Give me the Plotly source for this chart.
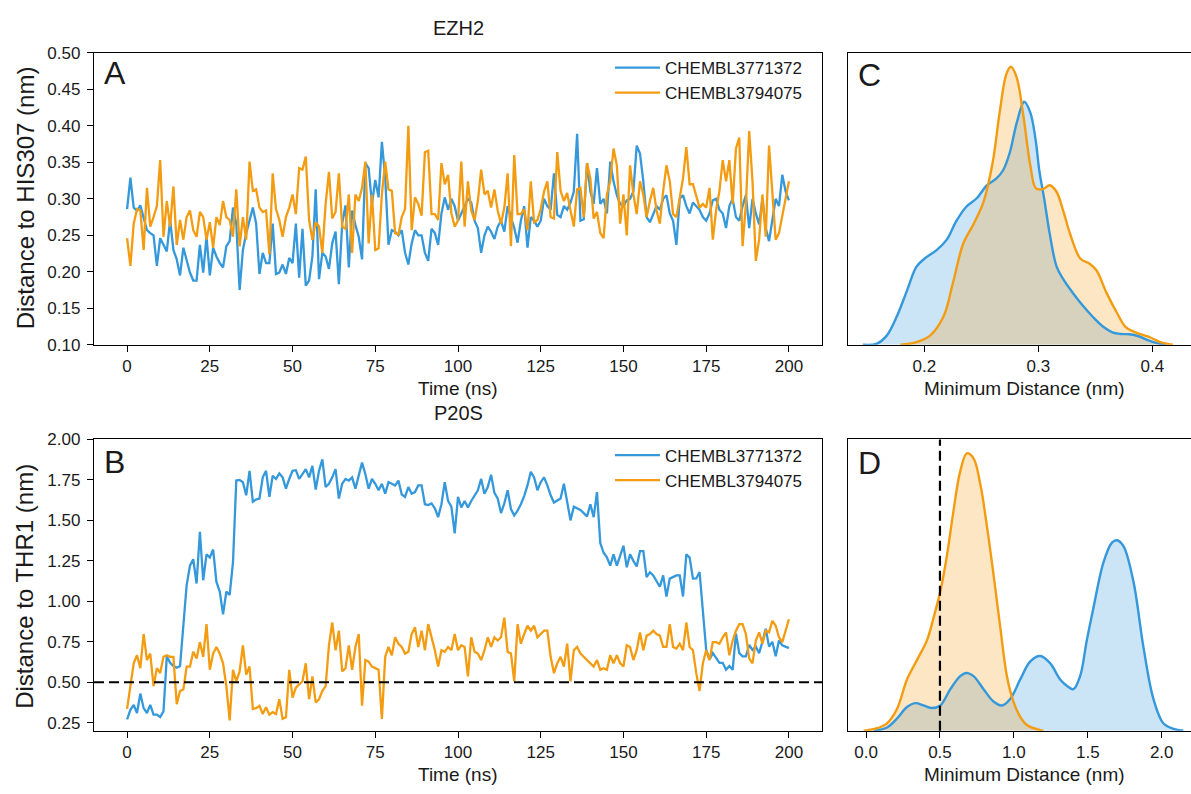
import plotly.graph_objects as go

# ---------------- data ----------------
time_ns = list(range(0, 201))

ezh2_chembl3771372 = [
    0.286,0.329,0.288,0.284,0.291,0.275,0.257,0.253,0.250,0.208,
    0.246,0.237,0.228,0.271,0.230,0.217,0.195,0.233,0.217,0.199,
    0.188,0.188,0.237,0.199,0.248,0.195,0.233,0.221,0.212,0.206,
    0.235,0.242,0.288,0.266,0.175,0.230,0.253,0.271,0.288,0.266,
    0.197,0.226,0.212,0.212,0.266,0.197,0.199,0.210,0.197,0.219,
    0.212,0.266,0.192,0.259,0.181,0.188,0.221,0.313,0.190,0.226,
    0.221,0.204,0.239,0.255,0.183,0.266,0.291,0.206,0.284,0.264,
    0.248,0.217,0.349,0.342,0.293,0.326,0.302,0.378,0.329,0.237,
    0.257,0.255,0.250,0.257,0.226,0.210,0.239,0.257,0.250,0.250,
    0.226,0.215,0.259,0.253,0.237,0.280,0.302,0.285,0.300,0.290,
    0.270,0.280,0.290,0.300,0.295,0.270,0.260,0.226,0.250,0.262,
    0.255,0.245,0.262,0.270,0.255,0.290,0.275,0.260,0.240,0.270,
    0.290,0.233,0.275,0.270,0.262,0.270,0.300,0.290,0.285,0.335,
    0.278,0.275,0.290,0.285,0.295,0.310,0.389,0.270,0.272,0.349,
    0.310,0.293,0.342,0.293,0.300,0.280,0.351,0.324,0.305,0.293,
    0.290,0.298,0.300,0.310,0.373,0.362,0.324,0.275,0.268,0.280,
    0.290,0.285,0.300,0.305,0.280,0.270,0.237,0.300,0.305,0.290,
    0.280,0.295,0.290,0.285,0.275,0.270,0.280,0.298,0.300,0.285,
    0.280,0.260,0.290,0.300,0.275,0.270,0.290,0.305,0.260,0.300,
    0.280,0.265,0.300,0.260,0.242,0.270,0.300,0.290,0.333,0.310,
    0.298,
]

ezh2_chembl3794075 = [
    0.246,0.208,0.266,0.286,0.284,0.230,0.315,0.262,0.275,0.290,
    0.353,0.248,0.297,0.262,0.317,0.237,0.271,0.244,0.275,0.284,
    0.257,0.248,0.282,0.275,0.244,0.268,0.233,0.275,0.264,0.297,
    0.275,0.271,0.248,0.313,0.235,0.275,0.244,0.351,0.311,0.313,
    0.288,0.282,0.284,0.224,0.335,0.286,0.271,0.248,0.275,0.288,
    0.306,0.279,0.342,0.340,0.358,0.271,0.244,0.268,0.262,0.226,
    0.293,0.337,0.273,0.282,0.335,0.262,0.259,0.306,0.226,0.306,
    0.297,0.315,0.351,0.239,0.306,0.230,0.232,0.306,0.351,0.313,
    0.311,0.253,0.251,0.275,0.286,0.400,0.257,0.302,0.293,0.277,
    0.364,0.366,0.279,0.279,0.271,0.349,0.320,0.333,0.280,0.262,
    0.270,0.351,0.262,0.324,0.284,0.271,0.297,0.340,0.306,0.311,
    0.288,0.313,0.284,0.266,0.288,0.335,0.235,0.360,0.279,0.279,
    0.286,0.257,0.324,0.268,0.271,0.286,0.310,0.324,0.275,0.273,
    0.364,0.311,0.297,0.308,0.284,0.262,0.313,0.315,0.275,0.349,
    0.328,0.273,0.282,0.253,0.246,0.306,0.324,0.369,0.346,0.266,
    0.306,0.250,0.346,0.306,0.279,0.324,0.306,0.275,0.297,0.315,
    0.284,0.266,0.311,0.346,0.324,0.279,0.275,0.302,0.328,0.371,
    0.320,0.320,0.302,0.288,0.293,0.288,0.315,0.244,0.284,0.311,
    0.353,0.324,0.353,0.293,0.369,0.384,0.235,0.293,0.393,0.324,
    0.215,0.244,0.306,0.248,0.373,0.306,0.244,0.253,0.275,0.300,
    0.324,
]

p20s_chembl3771372 = [
    0.270,0.330,0.360,0.310,0.430,0.340,0.310,0.360,0.300,0.300,
    0.285,0.320,0.660,0.620,0.600,0.590,0.600,0.850,1.100,1.220,
    1.260,1.110,1.430,1.130,1.290,1.270,1.320,1.120,1.060,0.920,
    1.060,1.040,1.240,1.746,1.750,1.736,1.655,1.806,1.615,1.629,
    1.635,1.766,1.806,1.645,1.776,1.756,1.790,1.766,1.696,1.756,
    1.806,1.810,1.756,1.786,1.817,1.766,1.837,1.690,1.806,1.877,
    1.706,1.726,1.766,1.817,1.635,1.726,1.756,1.746,1.766,1.696,
    1.786,1.857,1.786,1.696,1.756,1.726,1.686,1.726,1.665,1.736,
    1.726,1.716,1.746,1.660,1.645,1.706,1.665,1.675,1.716,1.716,
    1.600,1.595,1.605,1.575,1.520,1.600,1.736,1.620,1.585,1.420,
    1.645,1.580,1.620,1.580,1.620,1.655,1.686,1.756,1.665,1.706,
    1.782,1.670,1.635,1.545,1.605,1.686,1.570,1.530,1.560,1.600,
    1.650,1.716,1.800,1.766,1.686,1.736,1.766,1.716,1.655,1.610,
    1.625,1.635,1.726,1.620,1.500,1.585,1.575,1.565,1.545,1.524,
    1.600,1.520,1.675,1.360,1.300,1.272,1.220,1.290,1.220,1.280,
    1.343,1.210,1.290,1.250,1.215,1.310,1.310,1.150,1.180,1.160,
    1.121,1.090,1.160,1.030,1.140,1.150,1.160,1.160,1.030,1.290,
    1.270,1.140,1.141,1.181,0.950,0.700,0.640,0.680,0.650,0.620,
    0.620,0.577,0.600,0.577,0.800,0.680,0.660,0.660,0.730,0.700,
    0.720,0.680,0.750,0.830,0.720,0.750,0.660,0.758,0.728,0.718,
    0.711,
]

p20s_chembl3794075 = [
    0.335,0.466,0.617,0.667,0.587,0.798,0.637,0.677,0.476,0.587,
    0.557,0.657,0.667,0.657,0.657,0.365,0.446,0.456,0.597,0.597,
    0.688,0.647,0.748,0.657,0.859,0.577,0.677,0.718,0.677,0.617,
    0.476,0.264,0.577,0.506,0.567,0.728,0.547,0.597,0.335,0.340,
    0.355,0.304,0.345,0.300,0.315,0.304,0.395,0.274,0.284,0.577,
    0.405,0.466,0.486,0.506,0.617,0.395,0.536,0.375,0.395,0.446,
    0.476,0.728,0.869,0.698,0.819,0.567,0.587,0.728,0.577,0.718,
    0.798,0.355,0.637,0.627,0.597,0.587,0.577,0.274,0.657,0.718,
    0.667,0.778,0.738,0.718,0.677,0.688,0.798,0.839,0.718,0.819,
    0.698,0.859,0.778,0.698,0.597,0.698,0.688,0.718,0.698,0.798,
    0.698,0.728,0.718,0.536,0.778,0.688,0.677,0.637,0.698,0.778,
    0.718,0.778,0.758,0.778,0.899,0.688,0.677,0.506,0.859,0.738,
    0.798,0.849,0.819,0.849,0.778,0.798,0.819,0.819,0.657,0.556,
    0.617,0.657,0.597,0.738,0.506,0.698,0.718,0.677,0.657,0.637,
    0.617,0.597,0.637,0.577,0.587,0.577,0.667,0.617,0.667,0.617,
    0.597,0.728,0.718,0.637,0.698,0.808,0.698,0.788,0.798,0.819,
    0.798,0.788,0.718,0.718,0.859,0.718,0.708,0.738,0.698,0.869,
    0.718,0.698,0.556,0.446,0.617,0.698,0.637,0.748,0.748,0.738,
    0.778,0.808,0.667,0.758,0.819,0.859,0.859,0.798,0.647,0.617,
    0.758,0.808,0.738,0.819,0.808,0.879,0.849,0.778,0.748,0.819,
    0.889,
]

# density curves (arbitrary density units)
kde_c_blue_x = [0.146,0.158,0.167,0.176,0.185,0.193,0.200,0.211,0.220,0.228,0.237,0.246,
                0.255,0.263,0.269,0.275,0.281,0.2877,0.293,0.2975,0.301,0.305,0.310,0.316,
                0.322,0.330,0.339,0.348,0.357,0.365,0.372,0.380,0.388,0.396,0.404,0.412]
kde_c_blue_y = [0.0,0.03,0.28,0.88,1.68,2.38,2.63,2.90,3.23,3.78,4.23,4.48,
                4.88,5.08,5.33,5.88,6.78,7.43,7.10,6.30,5.30,4.50,3.40,2.40,
                2.00,1.60,1.20,0.85,0.55,0.38,0.33,0.32,0.26,0.14,0.05,0.0]
kde_c_orange_x = [0.179,0.193,0.205,0.217,0.225,0.234,0.243,0.252,0.260,0.266,0.272,0.276,
                  0.281,0.287,0.293,0.298,0.304,0.310,0.316,0.322,0.328,0.337,0.345,0.351,
                  0.360,0.369,0.377,0.389,0.398,0.407,0.418]
kde_c_orange_y = [0.0,0.08,0.28,0.88,1.88,3.08,3.68,4.38,5.58,7.08,8.28,8.50,
                  8.18,6.98,5.48,4.78,4.76,4.88,4.68,4.08,3.38,2.63,2.48,2.28,
                  1.58,0.98,0.53,0.33,0.23,0.08,0.0]

kde_d_blue_x = [0.052,0.142,0.210,0.277,0.333,0.390,0.446,0.502,0.570,0.637,0.678,0.727,
                0.795,0.862,0.919,0.975,1.043,1.110,1.178,1.245,1.313,1.360,1.403,1.448,
                1.493,1.538,1.606,1.662,1.696,1.741,1.809,1.876,1.944,2.011,2.079,2.146]
kde_d_blue_y = [0.0,0.10,0.38,0.73,0.85,0.78,0.70,0.78,1.28,1.68,1.78,1.68,
                1.28,0.90,0.78,0.98,1.58,2.13,2.30,2.08,1.58,1.38,1.28,1.68,
                2.78,3.78,5.18,5.78,5.86,5.68,4.58,2.58,0.98,0.23,0.06,0.0]
kde_d_orange_x = [-0.016,0.074,0.142,0.210,0.277,0.345,0.412,0.457,0.502,0.547,0.592,0.637,
                  0.682,0.727,0.773,0.818,0.863,0.908,0.953,0.998,1.043,1.088,1.155,1.200]
kde_d_orange_y = [0.0,0.08,0.23,0.68,1.58,2.18,2.78,3.48,4.28,5.38,6.78,7.98,
                  8.53,8.38,7.58,6.28,4.78,3.18,1.68,0.88,0.43,0.18,0.05,0.0]

series_names = ["CHEMBL3771372", "CHEMBL3794075"]
time_ticks = [0, 25, 50, 75, 100, 125, 150, 175, 200]
ezh2_yticks = [0.10, 0.15, 0.20, 0.25, 0.30, 0.35, 0.40, 0.45, 0.50]
p20s_yticks = [0.25, 0.50, 0.75, 1.00, 1.25, 1.50, 1.75, 2.00]
kde_c_ticks = [0.2, 0.3, 0.4]
kde_d_ticks = [0.0, 0.5, 1.0, 1.5, 2.0]
cutoff_nm = 0.5

# ---------------- style ----------------
BLUE = "#3498db"
ORANGE = "#f39c12"
BLUE_FILL = "rgba(52,152,219,0.25)"
ORANGE_FILL = "rgba(243,156,18,0.25)"
FONT = "Arial, Liberation Sans, DejaVu Sans, sans-serif"
TXT = "#1a1a1a"
W, H = 1191, 794

def px_x(p):
    return p / W

def px_y(p):
    return 1 - p / H

fig = go.Figure()

# Panel A
fig.add_trace(go.Scatter(x=time_ns, y=ezh2_chembl3771372, mode="lines", name=series_names[0],
                         line=dict(color=BLUE, width=2.3), xaxis="x", yaxis="y", legend="legend"))
fig.add_trace(go.Scatter(x=time_ns, y=ezh2_chembl3794075, mode="lines", name=series_names[1],
                         line=dict(color=ORANGE, width=2.3), xaxis="x", yaxis="y", legend="legend"))
# Panel B
fig.add_trace(go.Scatter(x=time_ns, y=p20s_chembl3771372, mode="lines", name=series_names[0],
                         line=dict(color=BLUE, width=2.3), xaxis="x3", yaxis="y3", legend="legend2"))
fig.add_trace(go.Scatter(x=time_ns, y=p20s_chembl3794075, mode="lines", name=series_names[1],
                         line=dict(color=ORANGE, width=2.3), xaxis="x3", yaxis="y3", legend="legend2"))

# Panels C and D: filled areas first, outlines on top
kde_sets = [
    (kde_c_blue_x, kde_c_blue_y, BLUE, BLUE_FILL, "x2", "y2"),
    (kde_c_orange_x, kde_c_orange_y, ORANGE, ORANGE_FILL, "x2", "y2"),
    (kde_d_blue_x, kde_d_blue_y, BLUE, BLUE_FILL, "x4", "y4"),
    (kde_d_orange_x, kde_d_orange_y, ORANGE, ORANGE_FILL, "x4", "y4"),
]
for kx, ky, col, fcol, xa, ya in kde_sets:
    fig.add_trace(go.Scatter(x=kx, y=ky, mode="lines", fill="tozeroy", fillcolor=fcol,
                             line=dict(color="rgba(0,0,0,0)", width=0, shape="spline"),
                             xaxis=xa, yaxis=ya, showlegend=False, hoverinfo="skip"))
for kx, ky, col, fcol, xa, ya in kde_sets:
    fig.add_trace(go.Scatter(x=kx, y=ky, mode="lines",
                             line=dict(color=col, width=2.4, shape="spline"),
                             xaxis=xa, yaxis=ya, showlegend=False))

axis_common = dict(showline=True, linecolor="black", linewidth=1.3, showgrid=False, zeroline=False,
                   ticks="outside", ticklen=6, tickwidth=1.2, tickcolor="black",
                   tickfont=dict(family=FONT, size=17, color=TXT))

left_dom = [px_x(94), px_x(822)]
right_dom = [px_x(848), 1.0]
top_dom = [px_y(344), px_y(45)]
bot_dom = [px_y(739.5), px_y(441)]

fig.update_layout(
    width=W, height=H,
    margin=dict(l=0, r=0, t=0, b=0),
    paper_bgcolor="white", plot_bgcolor="white",
    font=dict(family=FONT, color=TXT),
    xaxis=dict(domain=left_dom, range=[-10, 210], tickvals=time_ticks, mirror=True,
               anchor="y", ticklabelstandoff=0, **axis_common),
    yaxis=dict(domain=top_dom, range=[0.10, 0.50], tickvals=ezh2_yticks, tickformat=".2f",
               mirror=True, anchor="x", ticklabelstandoff=3, **axis_common),
    xaxis3=dict(domain=left_dom, range=[-10, 210], tickvals=time_ticks, mirror=True,
                anchor="y3", ticklabelstandoff=0, **axis_common),
    yaxis3=dict(domain=bot_dom, range=[0.20, 2.00], tickvals=p20s_yticks, tickformat=".2f",
                mirror=True, anchor="x3", ticklabelstandoff=3, **axis_common),
    xaxis2=dict(domain=right_dom, range=[0.133, 0.434], tickvals=kde_c_ticks, tickformat=".1f",
                mirror=True, anchor="y2", ticklabelstandoff=0, **axis_common),
    yaxis2=dict(domain=top_dom, range=[0, 8.925], showline=True, linecolor="black", linewidth=1.3,
                showgrid=False, zeroline=False, showticklabels=False, ticks="", anchor="x2"),
    xaxis4=dict(domain=right_dom, range=[-0.122, 2.198], tickvals=kde_d_ticks, tickformat=".1f",
                mirror=True, anchor="y4", ticklabelstandoff=0, **axis_common),
    yaxis4=dict(domain=bot_dom, range=[0, 8.96], showline=True, linecolor="black", linewidth=1.3,
                showgrid=False, zeroline=False, showticklabels=False, ticks="", anchor="x4"),
    legend=dict(x=px_x(610), y=px_y(42), xanchor="left", yanchor="top", bgcolor="rgba(0,0,0,0)",
                font=dict(family=FONT, size=17, color=TXT), itemwidth=45, tracegroupgap=0),
    legend2=dict(x=px_x(610), y=px_y(439), xanchor="left", yanchor="top", bgcolor="rgba(0,0,0,0)",
                 font=dict(family=FONT, size=17, color=TXT), itemwidth=45, tracegroupgap=0),
    showlegend=True,
)

# dashed cutoff lines
fig.add_shape(type="line", xref="x3 domain", yref="y3", x0=0, x1=1, y0=cutoff_nm, y1=cutoff_nm,
              line=dict(color="black", width=2.2, dash="10px,5px"))
fig.add_shape(type="line", xref="x4", yref="y4 domain", x0=cutoff_nm, x1=cutoff_nm, y0=0, y1=1,
              line=dict(color="black", width=2.2, dash="10px,5px"))

def ann(text, x, y, size, angle=0, xanchor="center"):
    fig.add_annotation(text=text, x=px_x(x), y=px_y(y), xref="paper", yref="paper",
                       showarrow=False, textangle=angle, xanchor=xanchor, yanchor="middle",
                       font=dict(family=FONT, size=size, color=TXT))

ann("EZH2", 458, 19, 20)
ann("P20S", 458, 414, 20)
ann("Time (ns)", 458, 389, 19)
ann("Time (ns)", 458, 784, 19)
ann("Minimum Distance (nm)", 1024, 389, 19)
ann("Minimum Distance (nm)", 1024, 784, 19)
ann("Distance to HIS307 (nm)", 25, 194, 24, angle=-90)
ann("Distance to THR1 (nm)", 25, 592, 24, angle=-90)
ann("A", 102, 66, 32, xanchor="left")
ann("B", 102, 464, 32, xanchor="left")
ann("C", 856, 68, 32, xanchor="left")
ann("D", 856, 465, 32, xanchor="left")

fig.write_html("out.html", config={"displayModeBar": False},
               post_script="document.body.style.margin='0';document.body.style.overflow='hidden';")
